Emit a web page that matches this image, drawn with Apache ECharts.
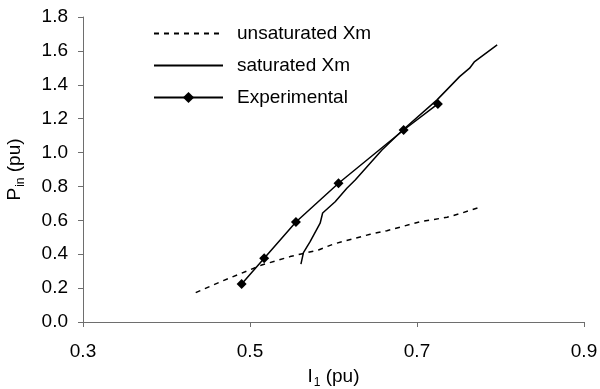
<!DOCTYPE html>
<html>
<head>
<meta charset="utf-8">
<script src="https://cdn.jsdelivr.net/npm/echarts@6/dist/echarts.min.js"></script>
<style>
  html, body { margin: 0; padding: 0; background: #fff; }
  #chart { width: 600px; height: 389px; }
</style>
</head>
<body>
<div id="chart"></div>
<script>
// Stator current I1 (pu) against input power Pin (pu)
const unsatI = [0.435, 0.468, 0.514, 0.548, 0.582, 0.600, 0.644, 0.664, 0.704, 0.736, 0.755, 0.775];
const unsatP = [0.173, 0.244, 0.336, 0.386, 0.425, 0.460, 0.518, 0.539, 0.592, 0.618, 0.645, 0.677];

const satI = [0.561, 0.564, 0.572, 0.584, 0.587, 0.602, 0.616, 0.626, 0.658, 0.683, 0.724, 0.751, 0.763, 0.769, 0.796];
const satP = [0.342, 0.409, 0.474, 0.583, 0.643, 0.710, 0.789, 0.838, 1.015, 1.133, 1.311, 1.448, 1.498, 1.537, 1.635];

const expI = [0.490, 0.517, 0.555, 0.606, 0.684, 0.725];
const expP = [0.224, 0.376, 0.590, 0.819, 1.133, 1.287];

const seriesNames = ['unsaturated Xm', 'saturated Xm', 'Experimental'];

const pairs = (xs, ys) => xs.map((x, i) => [x, ys[i]]);

const FONT = 'Liberation Sans, Arial, sans-serif';
const FS = 19;
const AXIS_COLOR = '#6e6e6e';

const chart = echarts.init(document.getElementById('chart'), null, { renderer: 'canvas' });

const nameRich = {
  n: { fontFamily: FONT, fontSize: FS, color: '#000' },
  s: { fontFamily: FONT, fontSize: 12, color: '#000', padding: [12, 0, 0, 1] }
};

chart.setOption({
  animation: false,
  backgroundColor: '#ffffff',
  textStyle: { fontFamily: FONT, color: '#000' },
  grid: { left: 83, right: 16, top: 17, bottom: 67, containLabel: false, outerBoundsMode: 'none' },
  legend: {
    orient: 'vertical',
    left: 148,
    top: 19,
    padding: 5,
    itemWidth: 69,
    itemHeight: 14,
    itemGap: 13,
    data: [
      // plain line samples: hide the marker, keep the stroke
      { name: seriesNames[0], itemStyle: { opacity: 0 } },
      { name: seriesNames[1], itemStyle: { opacity: 0 } },
      { name: seriesNames[2] }
    ],
    textStyle: { fontFamily: FONT, fontSize: FS, color: '#000', padding: [0, 0, 0, 9] }
  },
  xAxis: {
    type: 'value',
    min: 0.3,
    max: 0.9,
    interval: 0.2,
    name: '{n|I}{s|1}{n| (pu)}',
    nameLocation: 'middle',
    nameGap: 43,
    nameTextStyle: { rich: nameRich },
    axisLine: { show: true, lineStyle: { color: AXIS_COLOR, width: 1 } },
    axisTick: { show: true, inside: false, length: 5, lineStyle: { color: AXIS_COLOR } },
    axisLabel: {
      margin: 20,
      fontSize: FS,
      fontFamily: FONT,
      color: '#000',
      formatter: v => v.toFixed(1)
    },
    splitLine: { show: false }
  },
  yAxis: {
    type: 'value',
    min: 0,
    max: 1.8,
    interval: 0.2,
    name: '{n|P}{s|in}{n| (pu)}',
    nameLocation: 'middle',
    nameRotate: 90,
    nameGap: 56,
    nameTextStyle: { rich: nameRich },
    axisLine: { show: true, lineStyle: { color: AXIS_COLOR, width: 1 } },
    axisTick: { show: true, inside: false, length: 5, lineStyle: { color: AXIS_COLOR } },
    axisLabel: {
      margin: 15,
      fontSize: FS,
      fontFamily: FONT,
      color: '#000',
      formatter: v => v.toFixed(1)
    },
    splitLine: { show: false }
  },
  series: [
    {
      name: seriesNames[0],
      type: 'line',
      data: pairs(unsatI, unsatP),
      showSymbol: false,
      symbol: 'none',
      lineStyle: { color: '#000', width: 1.5, type: [5, 5] },
      itemStyle: { color: '#000' }
    },
    {
      name: seriesNames[1],
      type: 'line',
      data: pairs(satI, satP),
      showSymbol: false,
      symbol: 'none',
      lineStyle: { color: '#000', width: 1.5 },
      itemStyle: { color: '#000' }
    },
    {
      name: seriesNames[2],
      type: 'line',
      data: pairs(expI, expP),
      symbol: 'diamond',
      symbolSize: 10,
      lineStyle: { color: '#000', width: 1.5 },
      itemStyle: { color: '#000' }
    }
  ]
});
</script>
</body>
</html>
